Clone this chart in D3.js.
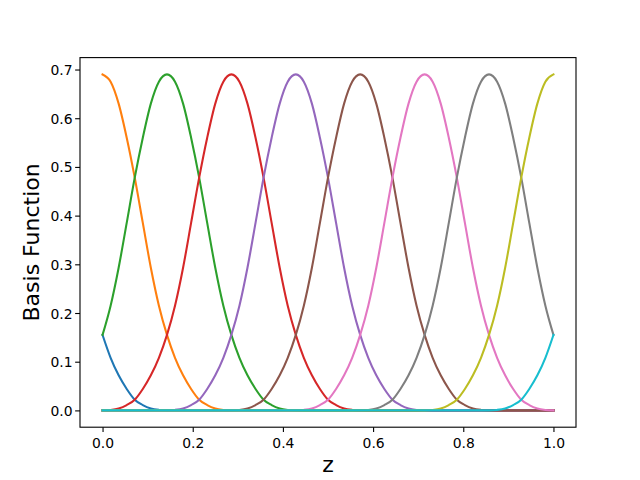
<!DOCTYPE html>
<html>
<head>
<meta charset="utf-8">
<script src="https://cdn.jsdelivr.net/npm/d3@7"></script>
<style>
body{margin:0;background:#fff;}
text{font-family:"DejaVu Sans",sans-serif;fill:#000;}
</style>
</head>
<body>
<svg width="640" height="480"></svg>
<script>
// sample points along z
var zs = [0,0.0179,0.0357,0.0536,0.0714,0.0893,0.1071,0.1250,0.1429,0.1607,0.1786,0.1964,0.2143,0.2321,0.2500,0.2679,0.2857,0.3036,0.3214,0.3393,0.3571,0.3750,0.3929,0.4107,0.4286,0.4464,0.4643,0.4821,0.5000,0.5179,0.5357,0.5536,0.5714,0.5893,0.6071,0.6250,0.6429,0.6607,0.6786,0.6964,0.7143,0.7321,0.7500,0.7679,0.7857,0.8036,0.8214,0.8393,0.8571,0.8750,0.8929,0.9107,0.9286,0.9464,0.9643,0.9821,1.0000];

// basis function values
var b0 = [0.155,0.108,0.072,0.044,0.022,0.011,0.004,0.001,0,0,0,0,0,0,0,0,0,0,0,0,0,0,0,0,0,0,0,0,0,0,0,0,0,0,0,0,0,0,0,0,0,0,0,0,0,0,0,0,0,0,0,0,0,0,0,0,0];
var b1 = [0.690,0.675,0.630,0.560,0.478,0.385,0.293,0.215,0.155,0.108,0.072,0.044,0.022,0.011,0.004,0.001,0,0,0,0,0,0,0,0,0,0,0,0,0,0,0,0,0,0,0,0,0,0,0,0,0,0,0,0,0,0,0,0,0,0,0,0,0,0,0,0,0];
var b2 = [0.155,0.215,0.293,0.385,0.478,0.560,0.630,0.675,0.690,0.675,0.630,0.560,0.478,0.385,0.293,0.215,0.155,0.108,0.072,0.044,0.022,0.011,0.004,0.001,0,0,0,0,0,0,0,0,0,0,0,0,0,0,0,0,0,0,0,0,0,0,0,0,0,0,0,0,0,0,0,0,0];
var b3 = [0,0.001,0.004,0.011,0.022,0.044,0.072,0.108,0.155,0.215,0.293,0.385,0.478,0.560,0.630,0.675,0.690,0.675,0.630,0.560,0.478,0.385,0.293,0.215,0.155,0.108,0.072,0.044,0.022,0.011,0.004,0.001,0,0,0,0,0,0,0,0,0,0,0,0,0,0,0,0,0,0,0,0,0,0,0,0,0];
var b4 = [0,0,0,0,0,0,0,0,0,0.001,0.004,0.011,0.022,0.044,0.072,0.108,0.155,0.215,0.293,0.385,0.478,0.560,0.630,0.675,0.690,0.675,0.630,0.560,0.478,0.385,0.293,0.215,0.155,0.108,0.072,0.044,0.022,0.011,0.004,0.001,0,0,0,0,0,0,0,0,0,0,0,0,0,0,0,0,0];
var b5 = [0,0,0,0,0,0,0,0,0,0,0,0,0,0,0,0,0,0.001,0.004,0.011,0.022,0.044,0.072,0.108,0.155,0.215,0.293,0.385,0.478,0.560,0.630,0.675,0.690,0.675,0.630,0.560,0.478,0.385,0.293,0.215,0.155,0.108,0.072,0.044,0.022,0.011,0.004,0.001,0,0,0,0,0,0,0,0,0];
var b6 = [0,0,0,0,0,0,0,0,0,0,0,0,0,0,0,0,0,0,0,0,0,0,0,0,0,0.001,0.004,0.011,0.022,0.044,0.072,0.108,0.155,0.215,0.293,0.385,0.478,0.560,0.630,0.675,0.690,0.675,0.630,0.560,0.478,0.385,0.293,0.215,0.155,0.108,0.072,0.044,0.022,0.011,0.004,0.001,0];
var b7 = [0,0,0,0,0,0,0,0,0,0,0,0,0,0,0,0,0,0,0,0,0,0,0,0,0,0,0,0,0,0,0,0,0,0.001,0.004,0.011,0.022,0.044,0.072,0.108,0.155,0.215,0.293,0.385,0.478,0.560,0.630,0.675,0.690,0.675,0.630,0.560,0.478,0.385,0.293,0.215,0.155];
var b8 = [0,0,0,0,0,0,0,0,0,0,0,0,0,0,0,0,0,0,0,0,0,0,0,0,0,0,0,0,0,0,0,0,0,0,0,0,0,0,0,0,0,0.001,0.004,0.011,0.022,0.044,0.072,0.108,0.155,0.215,0.293,0.385,0.478,0.560,0.630,0.675,0.690];
var b9 = [0,0,0,0,0,0,0,0,0,0,0,0,0,0,0,0,0,0,0,0,0,0,0,0,0,0,0,0,0,0,0,0,0,0,0,0,0,0,0,0,0,0,0,0,0,0,0,0,0,0.001,0.004,0.011,0.022,0.044,0.072,0.108,0.155];
var series = [b0,b1,b2,b3,b4,b5,b6,b7,b8,b9];
var colors = ['#1f77b4','#ff7f0e','#2ca02c','#d62728','#9467bd','#8c564b','#e377c2','#7f7f7f','#bcbd22','#17becf'];

var xticks = [0,0.2,0.4,0.6,0.8,1.0];
var yticks = [0,0.1,0.2,0.3,0.4,0.5,0.6,0.7];

var svg = d3.select('svg');
var L = 80, R = 576, T = 57.6, B = 427.2;

var x = d3.scaleLinear().domain([-0.05,1.05]).range([L,R]);
var y = d3.scaleLinear().domain([-0.0345,0.7245]).range([B,T]);

var line = d3.line()
  .x(function(d,i){ return x(zs[i]); })
  .y(function(d){ return y(d); })
  .curve(d3.curveMonotoneX);

var g = svg.append('g');
series.forEach(function(s,k){
  g.append('path').attr('d',line(s)).attr('fill','none')
    .attr('stroke',colors[k]).attr('stroke-width',2.08)
    .attr('stroke-linejoin','round').attr('stroke-linecap','square');
});

// axes
var xa = svg.append('g').attr('transform','translate(0,'+B+')')
  .call(d3.axisBottom(x).tickValues(xticks).tickSize(4.86).tickPadding(3.5).tickFormat(d3.format('.1f')));
var ya = svg.append('g').attr('transform','translate('+L+',0)')
  .call(d3.axisLeft(y).tickValues(yticks).tickSize(4.86).tickPadding(3.5).tickFormat(d3.format('.1f')));
[xa,ya].forEach(function(a){
  a.select('.domain').remove();
  a.selectAll('line').attr('stroke','#000').attr('stroke-width',1.1);
  a.selectAll('text').attr('font-family','DejaVu Sans').attr('font-size','13.9px').attr('fill','#000');
});
xa.selectAll('text').attr('dy',null).attr('y',20.8);
ya.selectAll('text').attr('dy',null).attr('dominant-baseline',null).attr('y',5).attr('x',-7.5);

svg.append('rect').attr('x',L).attr('y',T).attr('width',R-L).attr('height',B-T)
  .attr('fill','none').attr('stroke','#000').attr('stroke-width',1.1);

svg.append('text').attr('x',(L+R)/2).attr('y',472).attr('text-anchor','middle')
  .attr('font-size','22px').text('z');
svg.append('text').attr('transform','translate(39,'+((T+B)/2)+') rotate(-90)')
  .attr('text-anchor','middle').attr('font-size','22px').text('Basis Function');
</script>
</body>
</html>
